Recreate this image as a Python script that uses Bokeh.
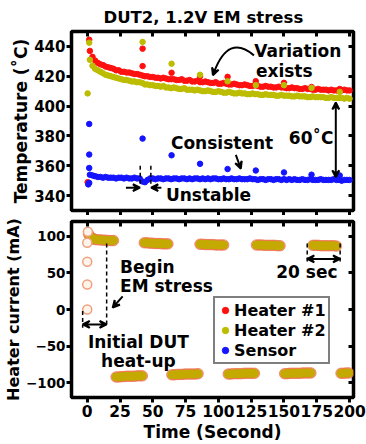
from bokeh.plotting import figure
from bokeh.layouts import column
from bokeh.models import (Range1d, LinearAxis, FixedTicker, Legend, LegendItem,
                          Label, Arrow, VeeHead, Title)
from bokeh.embed import file_html
from bokeh.resources import INLINE

FONT = "DejaVu Sans"
RED = "#ff1010"
OLIVE = "#bcbc00"
BLUE = "#1414ff"

# ---------------- data ----------------
x_ticks = [0, 25, 50, 75, 100, 125, 150, 175, 200]
temp_ticks = [340, 360, 380, 400, 420, 440]
current_ticks = [-100, -50, 0, 50, 100]

time_s = list(range(2, 201, 2))
heater1_temp = [437, 433, 430.5, 429, 428, 427.5, 426.5, 426, 425.5, 425,
                424, 424, 423, 423, 422.5, 422.5, 422, 421.5, 421.5, 421,
                420.5, 420, 420, 419.5, 419.5, 419, 419, 418.5, 419, 418.5,
                418, 418, 418, 417.5, 417.5, 418, 417, 417, 417.5, 416.5,
                416.5, 417, 416, 416, 416.5, 416, 415.5, 415.5, 416, 415,
                415, 415.5, 415, 414.5, 414.5, 415, 414.5, 414, 414, 414.5,
                414, 413.5, 413.5, 414, 413.5, 413, 413, 413.5, 413, 413,
                412.5, 412.5, 413, 412.5, 412.5, 412, 412, 412.5, 412, 412,
                411.5, 411.5, 412, 411.5, 411.5, 411, 411, 411.5, 411, 411,
                411, 410.5, 411, 410.5, 410.5, 410.5, 410.5, 411, 410.5, 410.5]
heater2_temp = [431, 427, 425, 424, 423, 422, 421, 420.5, 420, 419.5,
                419, 418.5, 418, 417.5, 417.5, 417, 416.5, 416.5, 416, 416,
                415.5, 414.5, 414.5, 414, 414, 413.5, 413.5, 413, 413.5, 412.5,
                412.5, 412, 412.5, 412, 411.5, 411.5, 412, 411, 411, 411,
                410.5, 411, 410.5, 410, 410, 410.5, 410, 409.5, 409.5, 410,
                409.5, 409, 409, 409.5, 409, 408.5, 408.5, 409, 408.5, 408.5,
                408, 408, 408.5, 408, 408, 407.5, 407.5, 408, 407.5, 407.5,
                407.5, 407, 407, 407.5, 407, 407, 407, 406.5, 406.5, 407,
                406.5, 406.5, 406.5, 406, 406, 406.5, 406, 406, 406, 406,
                405.5, 405.5, 406, 405.5, 405.5, 405.5, 405.5, 405, 405.5, 405]
sensor_temp = [354, 353.5, 353, 352.5, 352.5, 352, 352.5, 352, 352, 352,
               351.5, 352, 352, 351.5, 352, 351.5, 351.5, 352, 351.5, 351.5,
               349.5, 349, 350.5, 351.5, 351.5, 351, 351.5, 351.5, 351, 351.5,
               351.5, 351, 351.5, 351.5, 351, 351.5, 351.5, 351, 351.5, 351,
               351.5, 351.5, 351, 351.5, 351, 351.5, 351, 351.5, 351.5, 351,
               351, 351.5, 351, 351, 351.5, 351, 351, 351.5, 351, 351,
               351, 351.5, 351, 351, 350.5, 351, 351, 350.5, 351, 351,
               350.5, 351, 351, 350.5, 351, 350.5, 351, 350.5, 351, 350.5,
               350.5, 351, 350.5, 350.5, 351, 350.5, 350.5, 350.5, 351, 350.5,
               350.5, 350.5, 350.5, 351, 350.5, 350.5, 350, 350.5, 350.5, 350.5]

# outlier points at each polarity switch
heater1_spike_t = [1.5, 0.3, 42.2, 42.2, 64.3, 86, 107, 128.5, 150, 171, 192.5]
heater1_spike_v = [444.5, 349, 438.5, 426.8, 422.3, 420, 419.6, 416.7, 415.6, 412.8, 411.5]
heater2_spike_t = [1.5, 0.3, 42.2, 64.3, 86, 107, 128.5, 150, 171, 192.5]
heater2_spike_v = [442.5, 408.5, 443, 428.4, 421, 416.6, 414, 414, 412.2, 409.5]
sensor_spike_t = [1.5, 1.5, 1.5, 1.5, 0.8, 42.2, 64.3, 86, 107, 128.5, 150, 171, 192.5]
sensor_spike_v = [388, 367.5, 358.5, 348.5, 347.5, 378.2, 367, 361.3, 357.8, 356.8, 355.5, 354, 353.5]

# heater current (both heaters overlap)
heatup_t = [0, 0, 0, 0, 0.5]
heatup_ma = [0, 34, 65, 91, 106]
current_t = ([1, 2, 3, 4, 5, 6, 8, 10, 12, 14, 16, 18, 20]
             + [22, 24, 26, 28, 30, 32, 34, 36, 38, 40, 42]
             + [43.5, 45.5, 47.5, 49.5, 51.5, 53.5, 55.5, 57.5, 59.5, 61.5]
             + [64.5, 66.5, 68.5, 70.5, 72.5, 74.5, 76.5, 78.5, 80.5, 82.5, 84.5]
             + [86, 88, 90, 92, 94, 96, 98, 100, 102, 104]
             + [107.5, 109.5, 111.5, 113.5, 115.5, 117.5, 119.5, 121.5, 123.5, 125.5, 127.5]
             + [129, 131, 133, 135, 137, 139, 141, 143, 145, 147]
             + [150.5, 152.5, 154.5, 156.5, 158.5, 160.5, 162.5, 164.5, 166.5, 168.5, 170.5]
             + [172, 174, 176, 178, 180, 182, 184, 186, 188, 190]
             + [193.5, 195.5, 197.5, 199.5])
current_ma = ([103, 100, 98, 97, 96, 95.5, 95, 95, 94.5, 94.5, 94, 94, 94]
              + [-92, -92, -91.5, -91.5, -91, -91, -91, -91, -90.5, -90.5, -90.5]
              + [91, 91, 90.5, 90.5, 90, 90, 90, 89.5, 89.5, 89.5]
              + [-89, -89, -88.5, -88.5, -88.5, -88, -88, -88, -88, -88, -87.5]
              + [89, 89, 88.5, 88.5, 88.5, 88.5, 88, 88, 88, 88]
              + [-88, -88, -87.5, -87.5, -87.5, -87.5, -87, -87, -87, -87, -87]
              + [88, 88, 88, 87.5, 87.5, 87.5, 87.5, 87.5, 87, 87]
              + [-87.5, -87.5, -87, -87, -87, -87, -87, -86.5, -86.5, -86.5, -86.5]
              + [87.5, 87.5, 87.5, 87, 87, 87, 87, 87, 87, 86.5]
              + [-87, -87, -86.5, -86.5])

legend_labels = ["Heater #1", "Heater #2", "Sensor"]


# ---------------- helpers ----------------
def style_axes(p, yticks, x_labels, ylabel, xlabel=None, ytick_size="15px", ylabel_size="17px"):
    p.grid.visible = False
    p.outline_line_color = "black"
    p.outline_line_width = 3.5
    p.background_fill_color = "white"
    p.border_fill_color = "white"
    bottom, left = p.xaxis[0], p.yaxis[0]
    for ax in (bottom, left):
        ax.axis_line_color = None
        ax.major_tick_line_width = 3
        ax.major_tick_line_color = "black"
        ax.major_tick_out = 5
        ax.major_tick_in = 0
        ax.minor_tick_line_color = None
        ax.major_label_text_font = FONT
        ax.major_label_text_font_style = "bold"
        ax.major_label_text_color = "black"
        ax.major_label_standoff = 2
        ax.axis_label_text_font = FONT
        ax.axis_label_text_font_style = "bold"
        ax.axis_label_text_font_size = "17px"
        ax.axis_label_text_color = "black"
        ax.axis_label_standoff = 2
    left.major_label_text_font_size = ytick_size
    left.major_label_standoff = 1
    left.axis_label_text_font_size = ylabel_size
    left.axis_label_standoff = 0
    bottom.major_label_text_font_size = "15.5px"
    bottom.ticker = FixedTicker(ticks=x_ticks)
    left.ticker = FixedTicker(ticks=yticks)
    left.axis_label = ylabel
    if xlabel:
        bottom.axis_label = xlabel
    if not x_labels:
        bottom.major_label_text_font_size = "1px"
        bottom.major_label_text_color = None
        bottom.major_label_standoff = 0
    for loc, ticks in (("right", yticks), ("above", x_ticks)):
        ax = LinearAxis(ticker=FixedTicker(ticks=ticks))
        ax.axis_line_color = None
        ax.major_tick_line_width = 3
        ax.major_tick_line_color = "black"
        ax.major_tick_out = 0
        ax.major_tick_in = 5
        ax.minor_tick_line_color = None
        ax.major_label_text_font_size = "1px"
        ax.major_label_text_color = None
        ax.major_label_standoff = 0
        p.add_layout(ax, loc)


def label(p, x, y, text, align="left", size="17px"):
    p.add_layout(Label(x=x, y=y, text=text, text_align=align, text_baseline="middle",
                       text_font=FONT, text_font_style="bold", text_font_size=size,
                       text_color="black"))


def arrow(p, xs, ys, xe, ye, both=False, size=7):
    head = lambda: VeeHead(size=size, line_width=2, line_color="black")
    p.add_layout(Arrow(start=head() if both else None, end=head(),
                       x_start=xs, y_start=ys, x_end=xe, y_end=ye,
                       line_width=2, line_color="black"))


# ---------------- top panel ----------------
p1 = figure(width=366, height=215, x_range=Range1d(-12, 203), y_range=Range1d(330, 450),
            output_backend="svg", toolbar_location=None, title=None,
            min_border_left=71, min_border_right=13, min_border_top=30, min_border_bottom=5)
style_axes(p1, temp_ticks, False, "Temperature (˚C)")
p1.add_layout(Title(text="DUT2, 1.2V EM stress", align="left", offset=32,
                    text_font=FONT, text_font_style="bold", text_font_size="16.5px",
                    text_color="black"), "above")

dot = 5.5
p1.scatter(time_s, heater1_temp, size=dot, color=RED)
p1.scatter(heater1_spike_t, heater1_spike_v, size=dot, color=RED)
p1.scatter(time_s, heater2_temp, size=dot, color=OLIVE)
p1.scatter(heater2_spike_t, heater2_spike_v, size=dot, color=OLIVE)
p1.scatter(time_s, sensor_temp, size=dot, color=BLUE)
p1.scatter(sensor_spike_t, sensor_spike_v, size=dot, color=BLUE)

label(p1, 127.3, 436.7, "Variation")
label(p1, 128.6, 423.3, "exists")
p1.quadratic(x0=[127.1], y0=[434], x1=[96.6], y1=[422.5], cx=[107.6], cy=[448.7],
             line_width=2, line_color="black")
arrow(p1, 97.4, 424.5, 95.8, 420.7)
label(p1, 153.7, 378.7, "60˚C")
arrow(p1, 189.5, 402.5, 189.5, 352.2, both=True)
label(p1, 63.8, 375.5, "Consistent")
arrow(p1, 113.3, 367.3, 117.1, 358)
label(p1, 60, 340.5, "Unstable")
p1.segment(x0=[40.4, 48.5], y0=[360, 360], x1=[40.4, 48.5], y1=[348, 348],
           line_width=1.5, line_color="black", line_dash="4 3")
arrow(p1, 29.5, 345.3, 40.2, 345.3)
arrow(p1, 56.5, 345.3, 48.7, 345.3)

# ---------------- bottom panel ----------------
p2 = figure(width=366, height=229, x_range=Range1d(-12, 203), y_range=Range1d(-120, 120),
            output_backend="svg", toolbar_location=None, title=None,
            min_border_left=71, min_border_right=13, min_border_top=6, min_border_bottom=45)
style_axes(p2, current_ticks, True, "Heater current (mA)", "Time (Second)",
           ytick_size="13.5px", ylabel_size="16px")

p2.scatter(current_t, current_ma, size=10.5, color="#f07050", alpha=0.7)
p2.scatter(current_t, current_ma, size=8, color="#c4aa00")
p2.scatter(heatup_t, heatup_ma, size=9, fill_color="#fff4ea", line_color="#f0a080", line_width=1.5)

# legend-only swatches (a single undrawn NaN point each)
r_leg = [p2.scatter(x=[0], y=[float("nan")], size=8, color=c) for c in (RED, OLIVE, BLUE)]

p2.segment(x0=[14.8, -3.5, 167.7, 192.8], y0=[90, -2, 90, 90],
           x1=[14.8, -3.5, 167.7, 192.8], y1=[-22, -25, 65, 65],
           line_width=1.5, line_color="black", line_dash="4 3")
arrow(p2, -3.5, -20.3, 14.8, -20.3, both=True)
label(p2, 25, 58.5, "Begin")
label(p2, 25, 32.4, "EM stress")
arrow(p2, 27, 18, 19.4, 2.5)
label(p2, 39, -44.6, "Initial DUT", align="center")
label(p2, 39, -69.9, "heat-up", align="center")
arrow(p2, 167.7, 69, 192.8, 69, both=True)
label(p2, 167.5, 51.8, "20 sec", align="center")

legend = Legend(items=[LegendItem(label=l, renderers=[r]) for l, r in zip(legend_labels, r_leg)],
                location=(142, 33), orientation="vertical",
                border_line_color="black", border_line_width=2, background_fill_alpha=1,
                label_text_font=FONT, label_text_font_style="bold", label_text_font_size="16px",
                label_text_color="black",
                padding=2, spacing=0, margin=0, glyph_width=16, glyph_height=20,
                label_height=20, label_standoff=1)
p2.add_layout(legend)

layout = column(p1, p2)
open("out.html", "w").write(file_html(layout, INLINE))
